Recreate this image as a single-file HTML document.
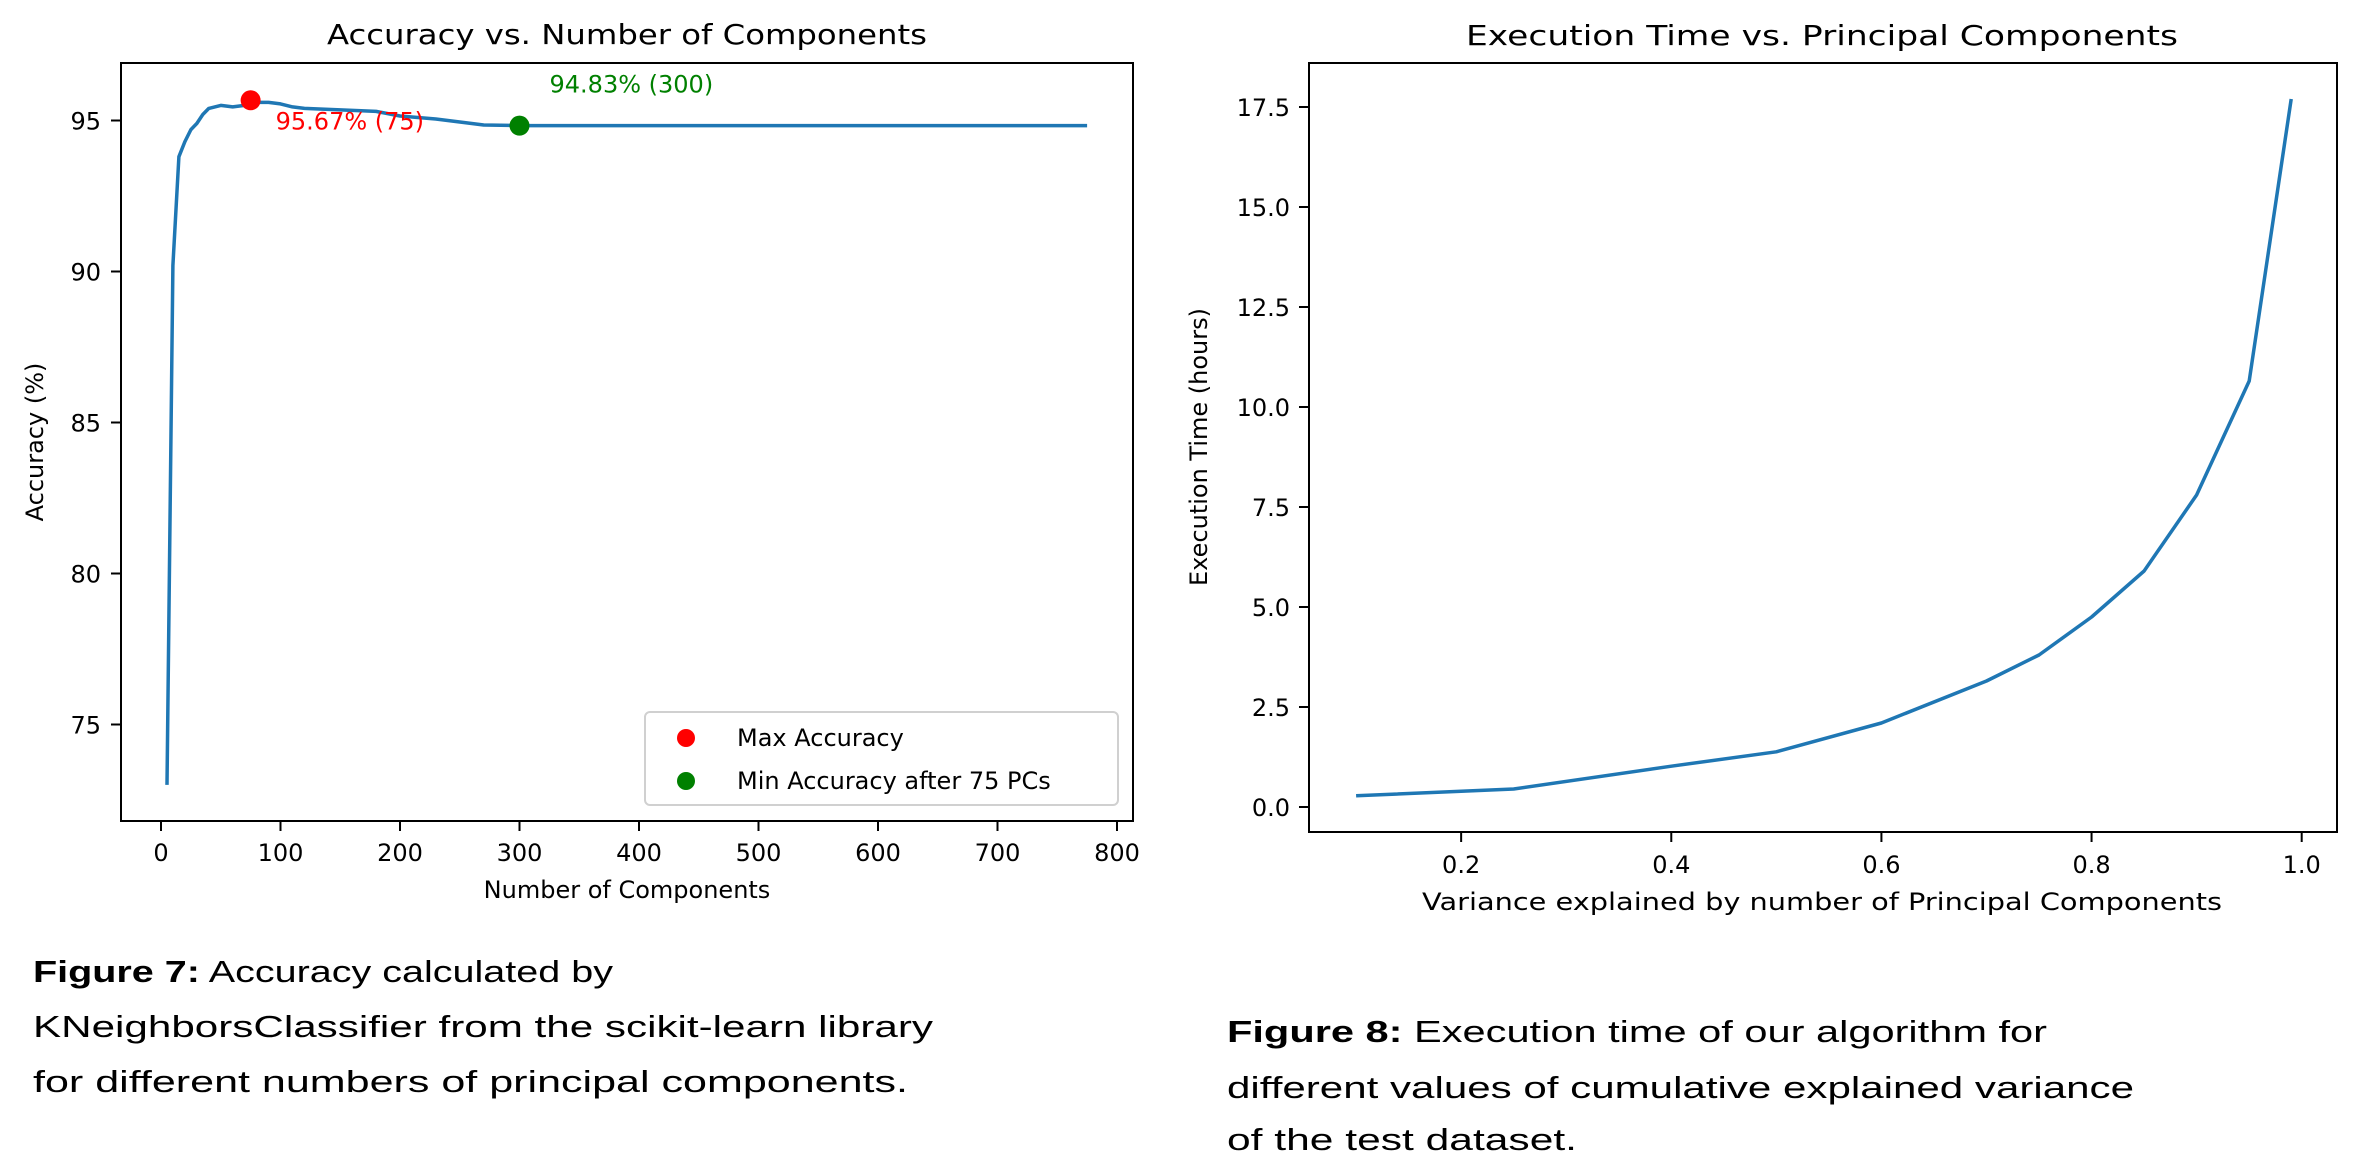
<!DOCTYPE html>
<html><head><meta charset="utf-8"><style>
html,body{margin:0;padding:0;background:#fff;}
svg{display:block;}
text{font-family:"DejaVu Sans","Liberation Sans",sans-serif;fill:#000;}
.cap{font-family:"Liberation Sans",sans-serif;font-size:31px;}
</style></head><body>
<svg id="fig" width="2360" height="1173" viewBox="0 0 2360 1173" xmlns="http://www.w3.org/2000/svg">
<g id="left"></g>
<g id="right"></g>
<g>
<text class="cap" x="33" y="982" textLength="580" lengthAdjust="spacingAndGlyphs"><tspan font-weight="bold">Figure 7:</tspan> Accuracy calculated by</text>
<text class="cap" x="33" y="1037" textLength="900" lengthAdjust="spacingAndGlyphs">KNeighborsClassifier from the scikit-learn library</text>
<text class="cap" x="33" y="1092" textLength="875" lengthAdjust="spacingAndGlyphs">for different numbers of principal components.</text>
</g>
<g>
<text class="cap" x="1227" y="1042" textLength="820" lengthAdjust="spacingAndGlyphs"><tspan font-weight="bold">Figure 8:</tspan> Execution time of our algorithm for</text>
<text class="cap" x="1227" y="1098" textLength="907" lengthAdjust="spacingAndGlyphs">different values of cumulative explained variance</text>
<text class="cap" x="1227" y="1150" textLength="350" lengthAdjust="spacingAndGlyphs">of the test dataset.</text>
</g>
</svg>
<script>
const accX = [5,10,15,20,25,30,35,40,50,60,70,75,80,90,100,110,120,150,180,200,230,250,270,300,400,500,600,700,775];
const accY = [73.0,90.2,93.8,94.3,94.7,94.9,95.2,95.4,95.5,95.45,95.5,95.67,95.6,95.6,95.55,95.45,95.4,95.35,95.3,95.15,95.05,94.95,94.85,94.83,94.83,94.83,94.83,94.83,94.83];
const accXTicks = [0,100,200,300,400,500,600,700,800];
const accYTicks = [75,80,85,90,95];
const maxPt = [75,95.67];
const minPt = [300,94.83];
const varX = [0.1,0.25,0.4,0.5,0.6,0.7,0.75,0.8,0.85,0.9,0.95,0.99];
const timeY = [0.28,0.45,1.02,1.38,2.1,3.15,3.8,4.75,5.9,7.8,10.65,17.7];
const varXTicks = [0.2,0.4,0.6,0.8,1.0];
const timeYTicks = [0.0,2.5,5.0,7.5,10.0,12.5,15.0,17.5];

const NS='http://www.w3.org/2000/svg';
function mk(parent,tag,attrs,txt){const e=document.createElementNS(NS,tag);for(const k in attrs)e.setAttribute(k,attrs[k]);if(txt!==undefined)e.textContent=txt;parent.appendChild(e);return e;}

// ---- left chart ----
const L=document.getElementById('left');
const lx0=121,lx1=1133,ly0=63,ly1=821;
const lsx=v=>161+(v/100)*119.5;
const lsy=v=>120.5-(v-95)*30.2;
let e=mk(L,'text',{x:627,y:44,'text-anchor':'middle','font-size':28,textLength:600,lengthAdjust:'spacingAndGlyphs'},'Accuracy vs. Number of Components');


accXTicks.forEach(t=>{const x=lsx(t);
 let tk=mk(L,'line',{x1:x,x2:x,y1:ly1,y2:ly1+10,stroke:'#000','stroke-width':2});
 
 
 let tl=mk(L,'text',{x:x,y:861,'text-anchor':'middle','font-size':24},String(t));
 
 });
accYTicks.forEach(t=>{const y=lsy(t);
 let tk=mk(L,'line',{x1:lx0-10,x2:lx0,y1:y,y2:y,stroke:'#000','stroke-width':2});
 
 
 let tl=mk(L,'text',{x:101,y:y+9,'text-anchor':'end','font-size':24},String(t));
 
 });
e=mk(L,'path',{d:accX.map((v,i)=>(i?'L':'M')+lsx(v).toFixed(1)+','+lsy(accY[i]).toFixed(1)).join(''),fill:'none',stroke:'#1f77b4','stroke-width':3.5,'stroke-linejoin':'round'});


e=mk(L,'circle',{cx:lsx(maxPt[0]),cy:lsy(maxPt[1]),r:10,fill:'#ff0000'});


e=mk(L,'circle',{cx:lsx(minPt[0]),cy:lsy(minPt[1]),r:10,fill:'#008000'});


e=mk(L,'text',{x:lsx(maxPt[0])+25,y:lsy(maxPt[1])+29,'font-size':24,style:'fill:#ff0000'},maxPt[1].toFixed(2)+'% ('+maxPt[0]+')');


e=mk(L,'text',{x:lsx(minPt[0])+30,y:lsy(minPt[1])-33,'font-size':24,style:'fill:#008000'},minPt[1].toFixed(2)+'% ('+minPt[0]+')');


e=mk(L,'rect',{x:lx0,y:ly0,width:lx1-lx0,height:ly1-ly0,fill:'none',stroke:'#000','stroke-width':2});


e=mk(L,'text',{x:627,y:898,'text-anchor':'middle','font-size':24},'Number of Components');


e=mk(L,'text',{x:0,y:0,'text-anchor':'middle','font-size':24,transform:'translate(43,442) rotate(-90)'},'Accuracy (%)');


const lg=mk(L,'g',{});


mk(lg,'rect',{x:645,y:712,width:473,height:93,rx:5,fill:'#fff',stroke:'#d0d0d0','stroke-width':2});
e=mk(lg,'circle',{cx:686,cy:738,r:9,fill:'#ff0000'});


e=mk(lg,'text',{x:737,y:746,'font-size':24},'Max Accuracy');


e=mk(lg,'circle',{cx:686,cy:781,r:9,fill:'#008000'});


e=mk(lg,'text',{x:737,y:789,'font-size':24},'Min Accuracy after 75 PCs');



// ---- right chart ----
const R=document.getElementById('right');
const rx0=1309,rx1=2337,ry0=63,ry1=832;
const rsx=v=>1251+v*1050.7;
const rsy=v=>807-v*40;
e=mk(R,'text',{x:1822,y:45,'text-anchor':'middle','font-size':28,textLength:712,lengthAdjust:'spacingAndGlyphs'},'Execution Time vs. Principal Components');


varXTicks.forEach(t=>{const x=rsx(t);
 let tk=mk(R,'line',{x1:x,x2:x,y1:ry1,y2:ry1+10,stroke:'#000','stroke-width':2});
 
 
 let tl=mk(R,'text',{x:x,y:873,'text-anchor':'middle','font-size':24},t.toFixed(1));
 
 });
timeYTicks.forEach(t=>{const y=rsy(t);
 let tk=mk(R,'line',{x1:rx0-10,x2:rx0,y1:y,y2:y,stroke:'#000','stroke-width':2});
 
 
 let tl=mk(R,'text',{x:1290,y:y+9,'text-anchor':'end','font-size':24},t.toFixed(1));
 
 });
e=mk(R,'path',{d:varX.map((v,i)=>(i?'L':'M')+rsx(v).toFixed(1)+','+rsy(timeY[i]).toFixed(1)).join(''),fill:'none',stroke:'#1f77b4','stroke-width':3.5,'stroke-linejoin':'round'});


e=mk(R,'rect',{x:rx0,y:ry0,width:rx1-rx0,height:ry1-ry0,fill:'none',stroke:'#000','stroke-width':2});


e=mk(R,'text',{x:1822,y:910,'text-anchor':'middle','font-size':24,textLength:800,lengthAdjust:'spacingAndGlyphs'},'Variance explained by number of Principal Components');


e=mk(R,'text',{x:0,y:0,'text-anchor':'middle','font-size':24,transform:'translate(1207,447) rotate(-90)'},'Execution Time (hours)');


</script>
</body></html>
